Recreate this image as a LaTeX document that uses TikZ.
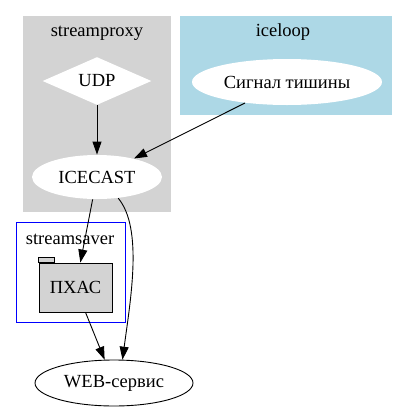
\documentclass[tikz,border=0pt]{standalone}
\usepackage{fontspec}
\setmainfont{Liberation Serif}
\newfontfamily\gvfont{Liberation Serif}
\usetikzlibrary{shapes.geometric,arrows.meta}
\definecolor{gvgray}{HTML}{D3D3D3}
\definecolor{gvblue}{HTML}{ADD8E6}
\begin{document}
\begin{tikzpicture}[x=1pt,y=-1pt,>={Triangle[length=13pt,width=9pt]},line width=0.9pt,
  every node/.style={font=\gvfont\fontsize{18.5}{21}\selectfont},
  oval/.style={ellipse,inner sep=0pt},
  folderbox/.style={draw,fill=gvgray,inner sep=0pt,minimum width=73pt,minimum height=49pt}]
\useasboundingbox (0,0) rectangle (408,413);
% clusters
\fill[gvgray] (23,16) rectangle (171,212);
\fill[gvblue] (180,16) rectangle (392,115);
\draw[blue] (16,222) rectangle (125,322);
\node (lproxy) at (97,33) {streamproxy};
\node (lloop) at (283,32) {iceloop};
\node (lsaver) at (70,239) {streamsaver};
% nodes
\node[diamond,fill=white,aspect=2.27,inner sep=0pt,minimum width=109pt,minimum height=48pt] (udp) at (97,81) {UDP};
\node[oval,fill=white,minimum width=130pt,minimum height=44pt] (icecast) at (97,177) {ICECAST};
\node[oval,fill=white,minimum width=190pt,minimum height=46pt] (silence) at (287,82) {Сигнал тишины};
\node[folderbox] (pxas) at (75.5,287.5) {ПХАС};
\draw[fill=gvgray] (pxas.north west) rectangle ++(16,-5);
\node[oval,draw,minimum width=158pt,minimum height=46pt] (web) at (114,383) {WEB-сервис};
% edges
\draw[->] (udp) -- (icecast);
\draw[->] (silence) -- (icecast);
\draw[->] (icecast) -- (pxas);
\draw[->] (pxas) -- (web);
\draw[->] (icecast.-45) .. controls +(25,30) and +(8,-60) .. (web.70);
\end{tikzpicture}
\end{document}
